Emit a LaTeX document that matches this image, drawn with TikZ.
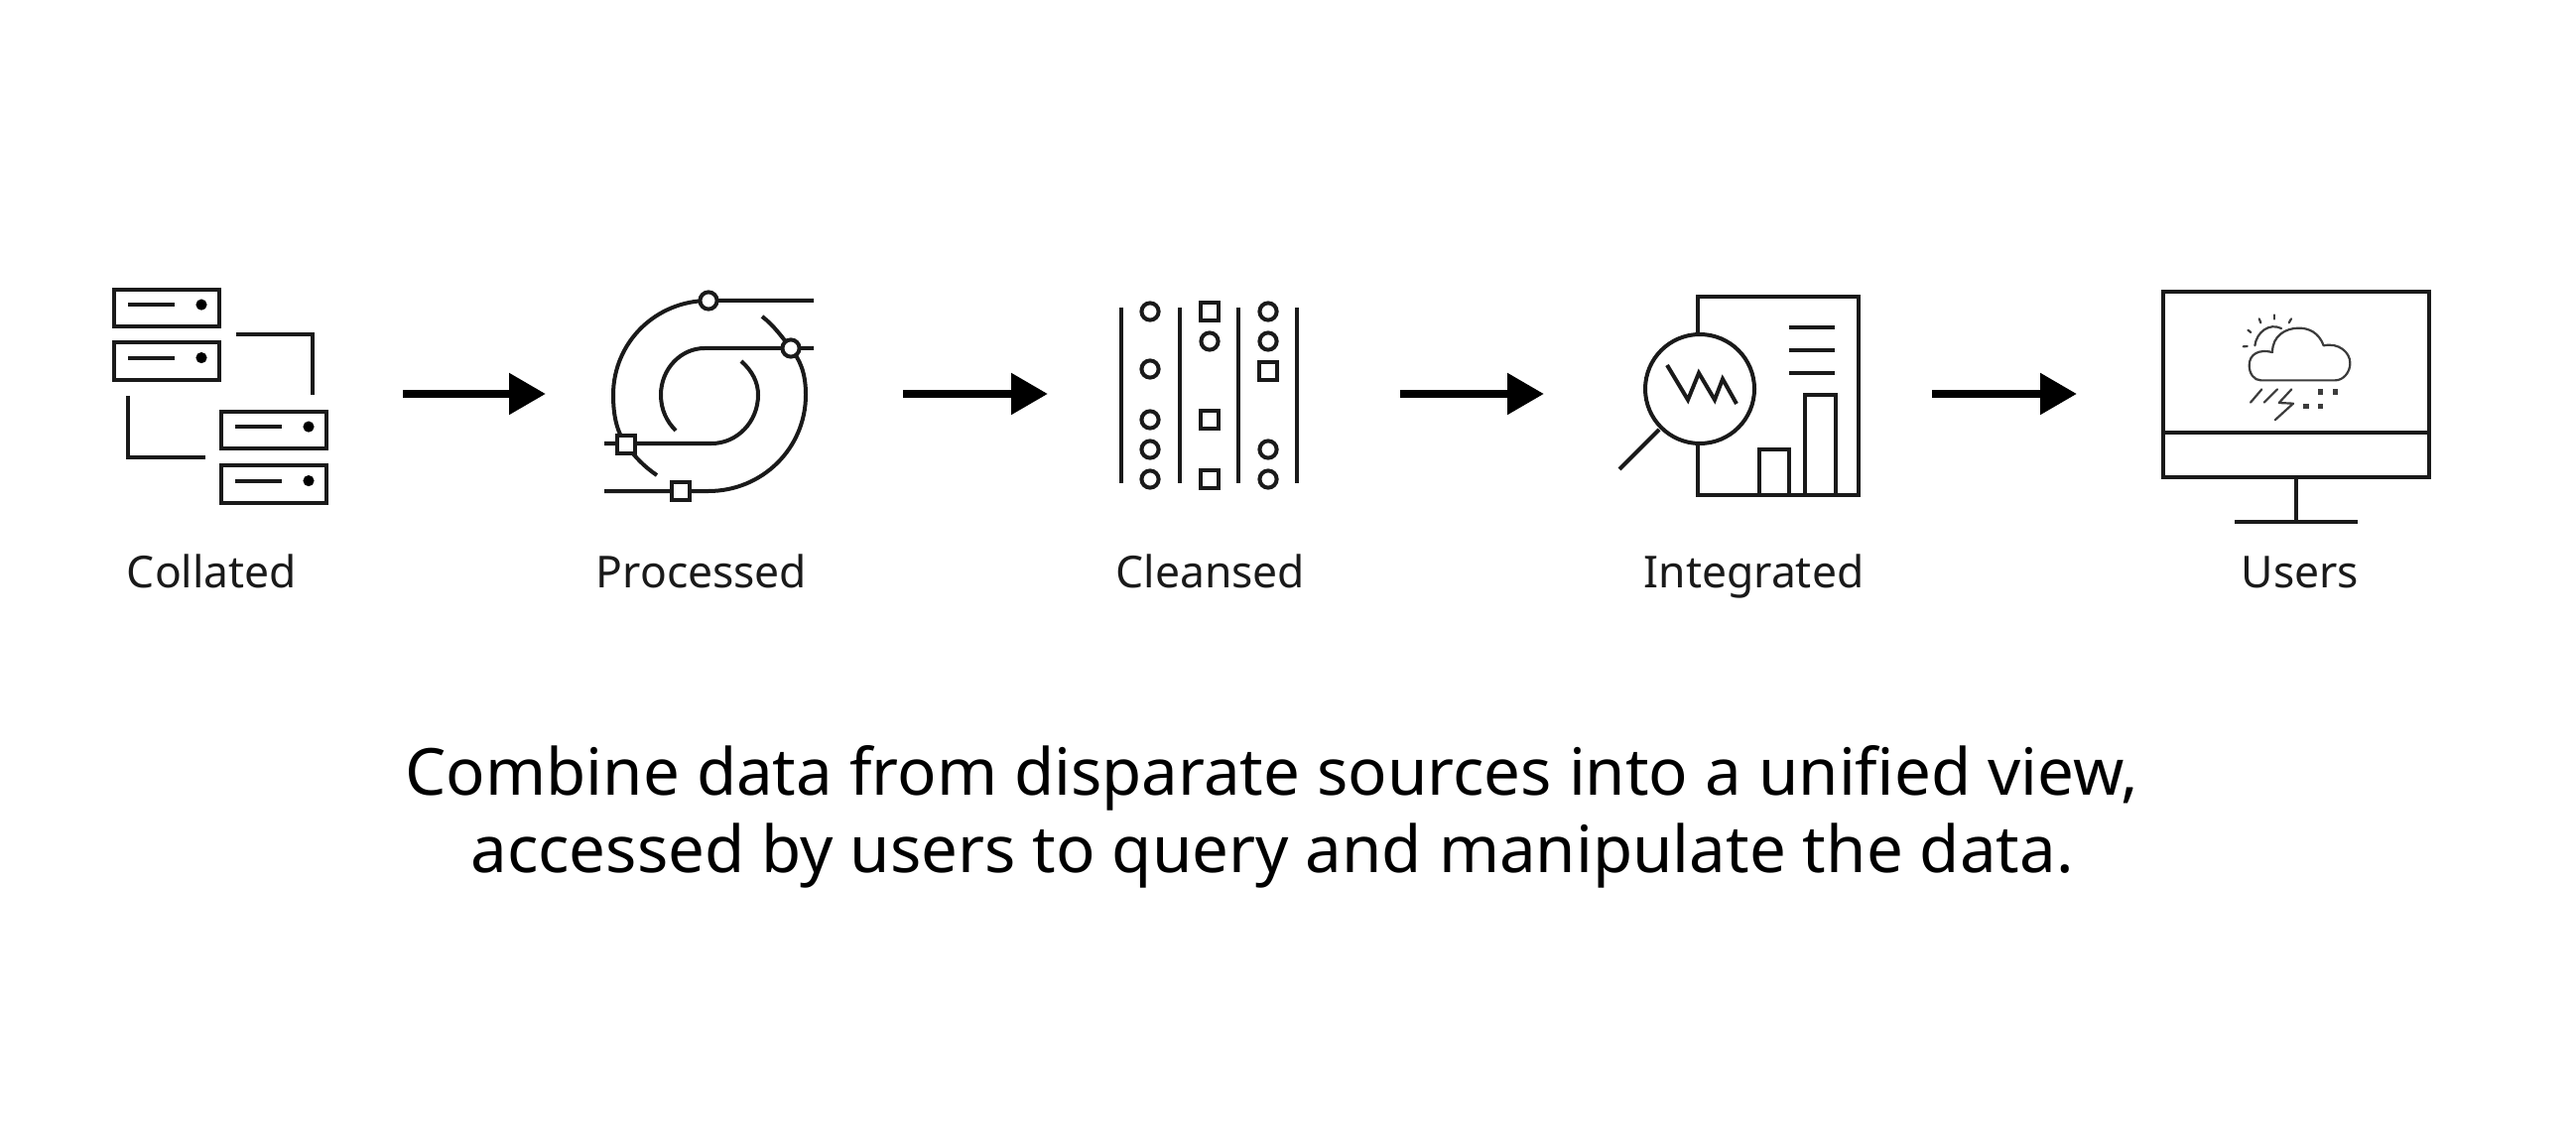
\documentclass[tikz,border=0pt]{standalone}
\usepackage{fontspec}
\setmainfont{Noto Sans}
\usetikzlibrary{arrows.meta}
\definecolor{ink}{HTML}{1A1A1A}
\tikzset{
  ico/.style={draw=ink,line width=2pt,line cap=butt,line join=miter},
  thin ico/.style={draw=ink!85,line width=1.1pt,line cap=round,line join=round},
  flow/.style={draw=black,line width=4.2pt,-{Triangle[length=18.5pt,width=20pt]}},
  lab/.style={anchor=base,text=ink,font=\fontsize{22.2}{26}\selectfont,inner sep=0pt},
  captext/.style={anchor=base,text=black,font=\fontsize{32.7}{39}\selectfont,inner sep=0pt},
  ringn/.style={circle,draw=ink,fill=white,line width=2pt,inner sep=0pt,minimum size=8.6pt},
  sqn/.style={rectangle,draw=ink,fill=white,line width=2pt,inner sep=0pt,minimum size=8.6pt},
  srv/.style={rectangle,draw=ink,line width=2pt,inner sep=0pt,minimum width=53pt,minimum height=18.6pt},
  led/.style={circle,fill=black,inner sep=0pt,minimum size=5.6pt},
  flake/.style={rectangle,fill=ink!85,inner sep=0pt,minimum size=2.6pt},
}
\begin{document}
\begin{tikzpicture}[x=0.5pt,y=-0.5pt]
\useasboundingbox (0,0) rectangle (2596,1144);

% ---------- Collated
\foreach \n/\x/\y in {a/168/310.5,b/168/364,c/276/433.5,d/276/488}{
  \node[srv] (srv\n) at (\x,\y) {};
  \node[led] (led\n) at ([xshift=17.5pt,yshift=1.7pt]srv\n.center) {};
  \coordinate (bar\n l) at ([xshift=-19.5pt,yshift=1.7pt]srv\n.center);
  \coordinate (bar\n r) at ([xshift=4pt,yshift=1.7pt]srv\n.center);
  \draw[ico] (bar\n l) -- (bar\n r);
}
\coordinate (l1a) at (238,337); \coordinate (l1b) at (315,337); \coordinate (l1c) at (315,398);
\coordinate (l2a) at (129,399); \coordinate (l2b) at (129,461); \coordinate (l2c) at (207,461);
\draw[ico] (l1a) -- (l1b) -- (l1c);
\draw[ico] (l2a) -- (l2b) -- (l2c);
\node[lab] (t1) at (213.5,592) {Collated};

% ---------- Processed
\draw[ico] (820,303) -- (714,303) .. controls (661,303) and (618,345) .. (618,398)
  .. controls (618,420) and (622,436) .. (631,448) .. controls (639,460) and (650,471) .. (662,479);
\draw[ico] (609,495) -- (714,495) .. controls (768,495) and (812,452) .. (812,398)
  .. controls (812,375) and (806,363) .. (797,351) .. controls (789,341) and (780,328) .. (768,319);
\draw[ico] (820,351) -- (710,351) .. controls (686,351) and (666,372) .. (666,398)
  .. controls (666,413) and (672,425) .. (681,434);
\draw[ico] (609,447) -- (717,447) .. controls (743,447) and (764,425) .. (764,398)
  .. controls (764,385) and (758,374) .. (747,364);
\node[ringn] (p1) at (714,303) {};
\node[ringn] (p2) at (797,351) {};
\node[sqn] (p3) at (631,448) {};
\node[sqn] (p4) at (686,495) {};
\node[lab] (t2) at (707,592) {Processed};

% ---------- Cleansed
\foreach \x in {1130,1189,1248,1307} \draw[ico] (\x,310) -- (\x,487);
\foreach \y in {314,372,423,453,483} \node[ringn] (ca\y) at (1159,\y) {};
\node[sqn] (cb1) at (1219,314) {};
\node[ringn] (cb2) at (1219,344) {};
\node[sqn] (cb3) at (1219,423) {};
\node[sqn] (cb4) at (1219,483) {};
\node[ringn] (cc1) at (1278,314) {};
\node[ringn] (cc2) at (1278,344) {};
\node[sqn] (cc3) at (1278,374) {};
\node[ringn] (cc4) at (1278,453) {};
\node[ringn] (cc5) at (1278,483) {};
\node[lab] (t3) at (1220,592) {Cleansed};

% ---------- Integrated
\draw[ico] (1711,337) -- (1711,299) -- (1873,299) -- (1873,499) -- (1711,499) -- (1711,447);
\draw[ico] (1713,392) circle [radius=55];
\draw[ico] (1632,473) -- (1672,433);
\draw[ico] (1680,368) -- (1701,403) -- (1712,376) -- (1728,403) -- (1736,382) -- (1750,407);
\foreach \y in {330,353,376} \draw[ico] (1803,\y) -- (1849,\y);
\draw[ico] (1773,499) -- (1773,453) -- (1803,453) -- (1803,499);
\draw[ico] (1819,499) -- (1819,398) -- (1850,398) -- (1850,499);
\node[lab] (t4) at (1767.5,592) {Integrated};

% ---------- Users
\draw[ico,line width=2.3pt] (2180,294) rectangle (2448,481);
\draw[ico,line width=2.3pt] (2180,436) -- (2448,436);
\draw[ico] (2314,481) -- (2314,526);
\draw[ico] (2252,526) -- (2376,526);
\begin{scope}[shift={(2240,300)},x=0.1667pt,y=-0.1667pt]
  \draw[thin ico] (115,250) -- (340,250) .. controls (365,250) and (385,225) .. (385,198)
    .. controls (385,165) and (350,135) .. (305,145)
    .. controls (290,105) and (260,92) .. (230,92)
    .. controls (190,92) and (150,115) .. (150,165)
    .. controls (110,155) and (80,170) .. (80,205)
    .. controls (80,230) and (95,250) .. (115,250) -- cycle;
  \draw[thin ico] (97,145) .. controls (102,105) and (140,75) .. (177,93);
  \draw[thin ico] (62,148) -- (74,147);
  \draw[thin ico] (76,98) -- (85,105);
  \draw[thin ico] (110,64) -- (115,76);
  \draw[thin ico] (157,52) -- (157,65);
  \draw[thin ico] (207,64) -- (200,76);
  \draw[thin ico] (84,317) -- (118,277);
  \draw[thin ico] (125,317) -- (165,277);
  \draw[thin ico] (208,277) -- (170,318) -- (213,320) -- (158,370);
  \node[flake] (s1) at (295,285) {};
  \node[flake] (s2) at (340,285) {};
  \node[flake] (s3) at (252,328) {};
  \node[flake] (s4) at (295,328) {};
\end{scope}
\node[lab] (t5) at (2318,592) {Users};

% ---------- Arrows
\coordinate (a1s) at (406,397); \coordinate (a1e) at (550,397);
\coordinate (a2s) at (910,397); \coordinate (a2e) at (1056,397);
\coordinate (a3s) at (1411,397); \coordinate (a3e) at (1556,397);
\coordinate (a4s) at (1947,397); \coordinate (a4e) at (2093,397);
\draw[flow] (a1s) -- (a1e);
\draw[flow] (a2s) -- (a2e);
\draw[flow] (a3s) -- (a3e);
\draw[flow] (a4s) -- (a4e);

% ---------- Caption
\node[captext] (c1) at (1282,801) {Combine data from disparate sources into a unified view,};
\node[captext] (c2) at (1282,879) {accessed by users to query and manipulate the data.};
\end{tikzpicture}
\end{document}
